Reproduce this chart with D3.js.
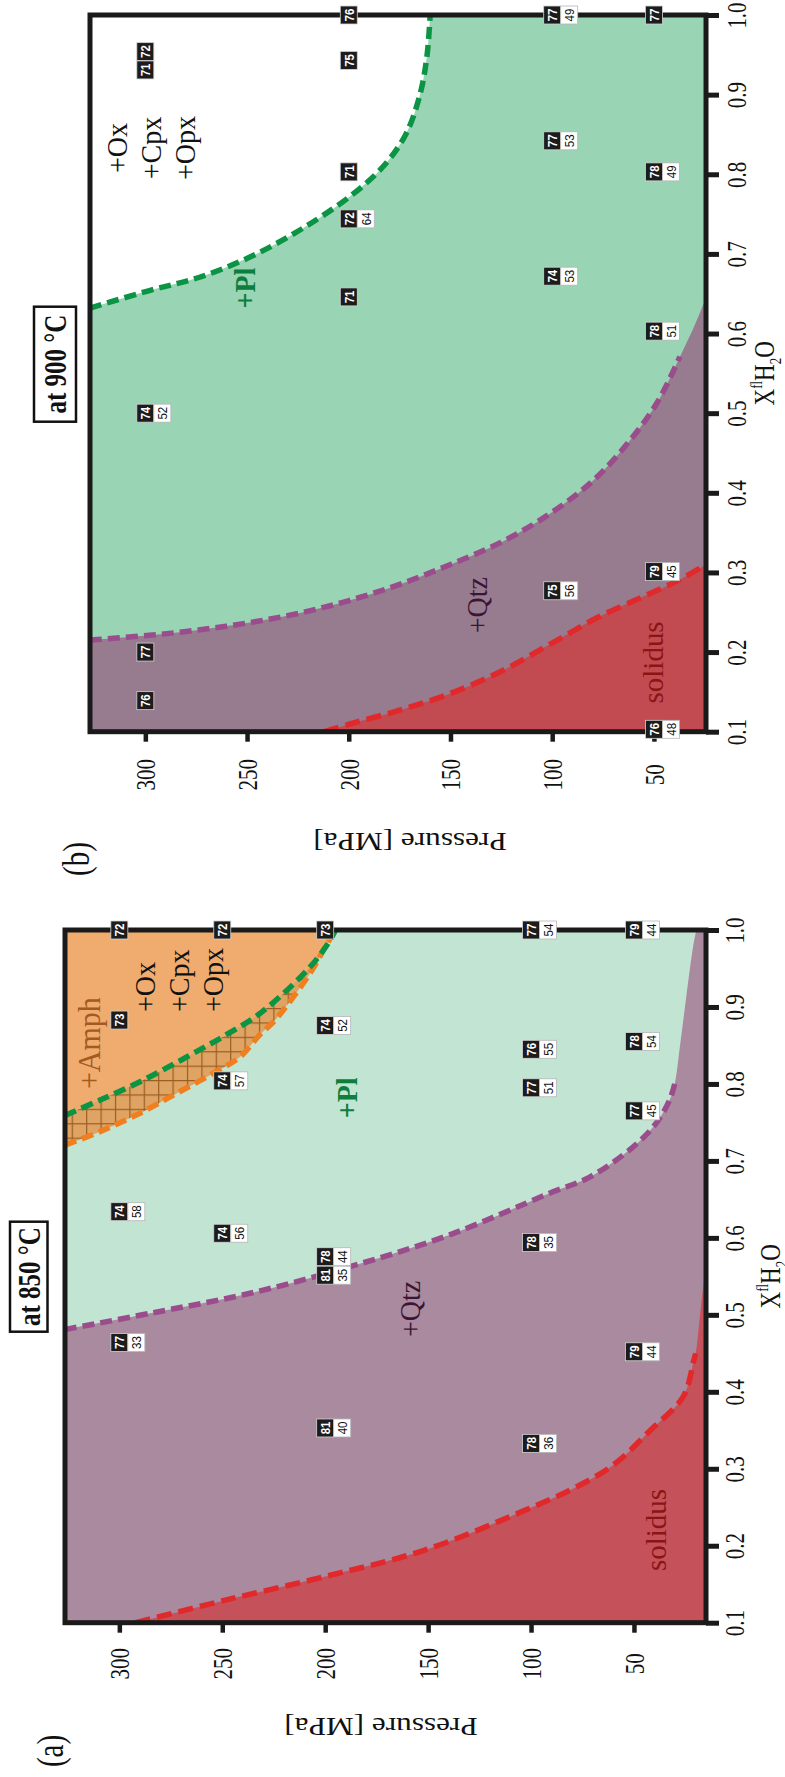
<!DOCTYPE html>
<html>
<head>
<meta charset="utf-8">
<script src="https://cdn.jsdelivr.net/npm/d3@7"></script>
<style>
  html, body { margin: 0; padding: 0; background: #fff; }
  svg { display: block; }
</style>
</head>
<body>
<svg id="fig" width="785" height="1777"></svg>
<script>
// ---------------- data ----------------
const xTicks = [0.1, 0.2, 0.3, 0.4, 0.5, 0.6, 0.7, 0.8, 0.9, 1.0];
const pTicks = [300, 250, 200, 150, 100, 50];

// (a) 850 °C — phase boundaries as [pressure MPa, X(fl)H2O]
const solidusA     = [[292,0.1],[249,0.129],[200,0.16],[152,0.194],[103,0.246],[79,0.275],[60,0.305],[42,0.35],[26,0.394],[21,0.44],[20,0.45]];
const solidusEdgeA = [[20,0.45],[17.5,0.51],[15,0.565]];
const qtzA         = [[326.4,0.481],[285,0.502],[236.5,0.528],[188,0.5625],[139.5,0.604],[91,0.658],[71.5,0.679],[50.5,0.718],[39.2,0.749],[32.7,0.779],[30.2,0.8]];
const qtzEdgeA     = [[30.2,0.8],[27.7,0.848],[24.6,0.913],[21.3,0.978],[19.7,1.0]];
const amphA        = [[326.4,0.7206],[309.4,0.738],[290,0.762],[272,0.788],[254.3,0.814],[241.4,0.835],[231.7,0.864],[224.3,0.883],[207.3,0.944],[200,0.978],[195,1.0]];
const plA          = [[326.4,0.759],[309.4,0.779],[288.3,0.805],[267.3,0.835],[248,0.864],[231,0.893],[207.3,0.952],[198,0.985],[195,1.0]];
// experimental runs: [P, X, first value, second value]
const runsA = [
  [300,1.0,"72",null],[250,1.0,"72",null],[200,1.0,"73",null],[100,1.0,"77","54"],[50,1.0,"79","44"],
  [300,0.883,"73",null],[200,0.876,"74","52"],[250,0.804,"74","57"],[100,0.845,"76","55"],[100,0.795,"77","51"],
  [50,0.855,"78","54"],[50,0.765,"77","45"],[300,0.634,"74","58"],[250,0.606,"74","56"],
  [200,0.5755,"78","44"],[200,0.5515,"81","35"],[100,0.594,"78","35"],[300,0.464,"77","33"],
  [50,0.452,"79","44"],[200,0.353,"81","40"],[100,0.333,"78","36"]
];

// (b) 900 °C
const solidusB = [[212,0.1],[199,0.11],[175,0.127],[150,0.148],[125,0.176],[101,0.21],[78,0.243],[55,0.27],[38,0.29],[24.4,0.31]];
const qtzB     = [[327.2,0.215],[298,0.221],[273,0.228],[248.6,0.237],[224,0.249],[199.4,0.265],[175,0.285],[150,0.31],[125,0.338],[101,0.374],[80,0.415],[62,0.465],[48,0.515],[37.2,0.571]];
const qtzEdgeB = [[37.2,0.571],[30,0.61],[24.4,0.645]];
const plB      = [[327.2,0.632],[298,0.654],[273,0.671],[248.6,0.696],[224,0.73],[199,0.773],[183,0.81],[172,0.85],[165,0.9],[161.5,0.95],[160,1.0]];
const runsB = [
  [200,1.0,"76",null],[100,1.0,"77","49"],[50,1.0,"77",null],[300,0.954,"72",null],[300,0.931,"71",null],
  [200,0.943,"75",null],[200,0.803,"71",null],[200,0.744,"72","64"],[100,0.842,"77","53"],[50,0.803,"78","49"],
  [100,0.672,"74","53"],[200,0.646,"71",null],[300,0.5,"74","52"],[50,0.603,"78","51"],[50,0.301,"79","45"],
  [100,0.277,"75","56"],[300,0.2,"77",null],[300,0.139,"76",null],[50,0.103,"76","48"]
];

// ---------------- drawing ----------------
const SERIF = "'Liberation Serif','Times New Roman',serif";
const SANS = "'Liberation Sans',Arial,sans-serif";
const S_AX = 1.3, S_NOTE = 1.05, S_BOX = 1.15;

const svg = d3.select("#fig");
const defs = svg.append("defs");

// cross-hatch used between the two Amph/Pl boundaries
const pat = defs.append("pattern").attr("id", "grid")
  .attr("patternUnits", "userSpaceOnUse").attr("width", 14.4).attr("height", 14.4)
  .attr("x", 71.7).attr("y", 0);
pat.append("rect").attr("width", 14.4).attr("height", 14.4).attr("fill", "#dfa463");
pat.append("path").attr("d", "M0,0.6H14.4M0.6,0V14.4").attr("stroke", "#9b5d22").attr("stroke-width", 1.2);

// text drawn along the rotated sheet: rot = -90 reads upward, 180 upside-down
function rtext(parent, x, y, str, o) {
  const t = parent.append("text")
    .attr("transform", `translate(${x},${y}) scale(${o.s || S_NOTE},1) rotate(${o.rot === undefined ? -90 : o.rot})`)
    .attr("text-anchor", o.anchor || "middle")
    .attr("dy", o.dy || 0)
    .attr("font-family", o.family || SERIF)
    .attr("font-size", o.size || 28)
    .attr("font-weight", o.weight || "normal")
    .attr("fill", o.fill || "#111");
  if (o.stroke) t.attr("stroke", o.stroke).attr("stroke-width", o.sw || 0.4);
  t.text(str);
  return t;
}

function panel(cfg) {
  const px = d3.scaleLinear().domain(cfg.pDomain).range(cfg.xRange);
  const xs = d3.scaleLinear().domain([0.1, 1]).range(cfg.yRange);
  const [pMax, pMin] = cfg.pDomain;
  const line = d3.line().x(d => px(d[0])).y(d => xs(d[1])).curve(d3.curveCatmullRom.alpha(0.5));
  const close = pts => pts.map(d => "L" + px(d[0]) + "," + xs(d[1])).join("") + "Z";

  const g = svg.append("g");
  const x0 = cfg.xRange[0], x1 = cfg.xRange[1], y0 = cfg.yRange[1], y1 = cfg.yRange[0];
  defs.append("clipPath").attr("id", "clip-" + cfg.id)
    .append("rect").attr("x", x0).attr("y", y0).attr("width", x1 - x0).attr("height", y1 - y0);
  const plot = g.append("g").attr("clip-path", `url(#clip-${cfg.id})`);

  cfg.fills({ plot, line, close, px, xs, pMax, pMin, x0, x1, y0, y1 });

  const dashed = (pts, color, dash) => plot.append("path").attr("d", line(pts))
    .attr("fill", "none").attr("stroke", color).attr("stroke-width", 5.5)
    .attr("stroke-dasharray", dash);
  cfg.dashes.forEach(d => dashed(d[0], d[1], d[2]));

  // frame
  g.append("rect").attr("x", x0).attr("y", y0).attr("width", x1 - x0).attr("height", y1 - y0)
    .attr("fill", "none").attr("stroke", "#1a1a1a").attr("stroke-width", 5);

  // X(fl)H2O axis (right side of the sheet)
  const axX = g.append("g").attr("transform", `translate(${x1},0)`)
    .call(d3.axisRight(xs).tickValues(xTicks).tickSize(13).tickFormat(d3.format(".1f")));
  axX.select(".domain").remove();
  axX.selectAll(".tick line").attr("stroke", "#1a1a1a").attr("stroke-width", 5);
  axX.selectAll(".tick text").attr("x", null).attr("y", null)
    .attr("dy", "0.34em").attr("text-anchor", "middle")
    .attr("transform", `translate(${cfg.xLabOff},0) scale(${S_AX},1) rotate(-90)`)
    .attr("font-family", SERIF).attr("font-size", 21).attr("fill", "#111");

  // pressure axis (bottom of the sheet)
  const axP = g.append("g").attr("transform", `translate(0,${y1})`)
    .call(d3.axisBottom(px).tickValues(pTicks).tickSize(10));
  axP.select(".domain").remove();
  axP.selectAll(".tick line").attr("stroke", "#1a1a1a").attr("stroke-width", 4.5);
  axP.selectAll(".tick text").attr("x", null).attr("y", null)
    .attr("dy", "0.34em").attr("text-anchor", "middle")
    .attr("transform", `translate(0,${cfg.pLabOff}) scale(${S_AX},1) rotate(-90)`)
    .attr("font-family", SERIF).attr("font-size", 21).attr("fill", "#111");

  // axis titles
  const xt = g.append("text")
    .attr("transform", `translate(${x1 + cfg.xTitleOff},${xs(0.55)}) scale(${S_AX},1) rotate(-90)`)
    .attr("text-anchor", "middle").attr("dy", "0.34em")
    .attr("font-family", SERIF).attr("font-size", 23).attr("fill", "#111");
  xt.append("tspan").text("X");
  xt.append("tspan").attr("dy", -9).attr("font-size", 13).text("fl");
  xt.append("tspan").attr("dy", 9).text("H");
  xt.append("tspan").attr("dy", 5).attr("font-size", 13).text("2");
  xt.append("tspan").attr("dy", -5).text("O");

  rtext(g, cfg.pTitle[0], cfg.pTitle[1], "Pressure [MPa]", { rot: 180, s: 1.25, size: 25, dy: "0.34em" });
  rtext(g, cfg.tag[0], cfg.tag[1], cfg.tagText, { s: S_AX, size: 29, dy: "0.34em" });

  // temperature box
  const tb = cfg.tBox;
  g.append("rect").attr("x", tb[0]).attr("y", tb[1]).attr("width", tb[2]).attr("height", tb[3])
    .attr("fill", "#fff").attr("stroke", "#111").attr("stroke-width", 2.5);
  rtext(g, tb[0] + tb[2] / 2, tb[1] + tb[3] / 2, cfg.tText, { s: S_AX, size: 25, weight: "bold", dy: "0.34em" });

  // run boxes
  const bw = 17, bh = 18;
  const runs = g.append("g").selectAll("g").data(cfg.runs).join("g")
    .attr("transform", d => `translate(${px(d[0])},${xs(d[1])})`);
  runs.append("rect").attr("x", -bw / 2).attr("y", -bh / 2).attr("width", bw).attr("height", bh)
    .attr("fill", "#1c1c1c").attr("stroke", "#d4d4d4").attr("stroke-width", 0.8);
  runs.append("text").attr("transform", `scale(${S_BOX},1) rotate(-90)`)
    .attr("text-anchor", "middle").attr("dy", "0.36em")
    .attr("font-family", SANS).attr("font-weight", "bold").attr("font-size", 11.5)
    .attr("fill", "#fff").text(d => d[2]);
  const two = runs.filter(d => d[3]);
  two.append("rect").attr("x", bw / 2).attr("y", -bh / 2).attr("width", bw).attr("height", bh)
    .attr("fill", "#fff").attr("stroke", "#b5b5b5").attr("stroke-width", 0.8);
  two.append("text").attr("transform", `translate(${bw},0) scale(${S_BOX},1) rotate(-90)`)
    .attr("text-anchor", "middle").attr("dy", "0.36em")
    .attr("font-family", SANS).attr("font-size", 11.5)
    .attr("fill", "#111").text(d => d[3]);

  // field labels
  cfg.notes.forEach(n => rtext(g, px(n.p), xs(n.x), n.t, n));
}

// (a) 850 °C
panel({
  id: "a",
  pDomain: [326.4, 15], xRange: [65, 706], yRange: [1622.7, 930],
  xLabOff: 29, pLabOff: 41, xTitleOff: 64,
  pTitle: [381, 1727], tag: [50, 1751], tagText: "(a)",
  tBox: [10, 1221.7, 37.5, 110], tText: "at 850 °C",
  runs: runsA,
  fills: ({ plot, line, close, pMax, pMin, x0, x1, y0, y1 }) => {
    plot.append("rect").attr("x", x0).attr("y", y0).attr("width", x1 - x0).attr("height", y1 - y0).attr("fill", "#c2e5d3");
    plot.append("path").attr("d", line(amphA) + close([[pMax, 1.0]])).attr("fill", "url(#grid)");
    plot.append("path").attr("d", line(plA) + close([[pMax, 1.0]])).attr("fill", "#efac6e");
    plot.append("path").attr("d", line(qtzA.concat(qtzEdgeA.slice(1))) + close([[pMin, 1.0], [pMin, 0.1], [pMax, 0.1]])).attr("fill", "#a98a9f");
    plot.append("path").attr("d", line(solidusA.concat(solidusEdgeA.slice(1))) + close([[pMin, 0.1]])).attr("fill", "#c5525b");
  },
  dashes: [[solidusA, "#e1282a", "15 7"], [qtzA, "#9b4c8c", "12 6"], [amphA, "#f07f1f", "12 6"], [plA, "#0b9444", "12 6"]],
  notes: [
    { t: "+Amph", p: 309.4, x: 0.853, size: 30, fill: "#a35a22" },
    { t: "+Ox", p: 282.7, x: 0.8934, size: 28, anchor: "start" },
    { t: "+Cpx", p: 266.1, x: 0.8934, size: 28, anchor: "start" },
    { t: "+Opx", p: 249.6, x: 0.8934, size: 28, anchor: "start" },
    { t: "+Pl", p: 184.5, x: 0.782, size: 28, weight: "bold", fill: "#0b7f3b" },
    { t: "+Qtz", p: 153.9, x: 0.5076, size: 28, fill: "#3b1535" },
    { t: "solidus", p: 34.5, x: 0.2204, size: 29, fill: "#8b1515" }
  ]
});

// (b) 900 °C
panel({
  id: "b",
  pDomain: [327.2, 24.4], xRange: [90, 706], yRange: [731.7, 15],
  xLabOff: 31, pLabOff: 43, xTitleOff: 58,
  pTitle: [410, 842], tag: [76, 859], tagText: "(b)",
  tBox: [34, 306.7, 42, 115], tText: "at 900 °C",
  runs: runsB,
  fills: ({ plot, line, close, pMax, pMin }) => {
    plot.append("path").attr("d", line(plB) + close([[pMin, 1.0], [pMin, 0.1], [pMax, 0.1]])).attr("fill", "#99d4b4");
    plot.append("path").attr("d", line(qtzB.concat(qtzEdgeB.slice(1))) + close([[pMin, 0.1], [pMax, 0.1]])).attr("fill", "#977b8f");
    plot.append("path").attr("d", line(solidusB) + close([[pMin, 0.1]])).attr("fill", "#c24b51");
  },
  dashes: [[solidusB, "#e1282a", "15 7"], [qtzB, "#9b4c8c", "12 6"], [plB, "#0b9444", "12 6"]],
  notes: [
    { t: "+Ox", p: 309, x: 0.833, size: 28 },
    { t: "+Cpx", p: 292.3, x: 0.833, size: 28 },
    { t: "+Opx", p: 275.6, x: 0.833, size: 28 },
    { t: "+Pl", p: 246.1, x: 0.657, size: 28, weight: "bold", fill: "#0b7f3b" },
    { t: "+Qtz", p: 132, x: 0.259, size: 28, fill: "#3b1535" },
    { t: "solidus", p: 45.5, x: 0.187, size: 29, fill: "#8b1515" }
  ]
});
</script>
</body>
</html>
